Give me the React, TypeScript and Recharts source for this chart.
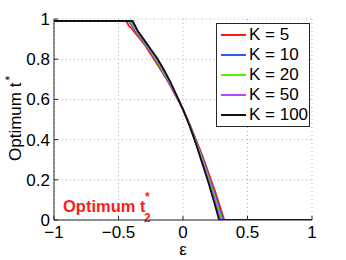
import React from "react";
import { LineChart, Line, XAxis, YAxis, CartesianGrid, Legend } from "recharts";

// epsilon / optimum t*, one pair of arrays per K
const K5_EPS = [-1, -0.44, -0.42, -0.4, -0.37, -0.35, -0.3, -0.25, -0.2, -0.15, -0.1, -0.05, 0, 0.05, 0.1, 0.15, 0.2, 0.25, 0.3, 0.32, 1];
const K5_T = [0.99, 0.99, 0.965, 0.955, 0.93, 0.915, 0.875, 0.825, 0.775, 0.725, 0.67, 0.61, 0.55, 0.48, 0.4, 0.32, 0.23, 0.14, 0.04, 0, 0];

const K10_EPS = [-1, -0.42, -0.4, -0.35, -0.3, -0.25, -0.2, -0.15, -0.1, -0.05, 0, 0.05, 0.1, 0.15, 0.2, 0.25, 0.3, 0.31, 1];
const K10_T = [0.99, 0.99, 0.97, 0.925, 0.88, 0.835, 0.785, 0.73, 0.675, 0.615, 0.55, 0.475, 0.395, 0.31, 0.215, 0.12, 0.02, 0, 0];

const K20_EPS = [-1, -0.41, -0.4, -0.35, -0.3, -0.25, -0.2, -0.15, -0.1, -0.05, 0, 0.05, 0.1, 0.15, 0.2, 0.25, 0.3, 1];
const K20_T = [0.99, 0.99, 0.98, 0.93, 0.885, 0.84, 0.79, 0.735, 0.68, 0.618, 0.55, 0.473, 0.39, 0.3, 0.205, 0.105, 0, 0];

const K50_EPS = [-1, -0.4, -0.35, -0.3, -0.25, -0.2, -0.15, -0.1, -0.05, 0, 0.05, 0.1, 0.15, 0.2, 0.25, 0.29, 1];
const K50_T = [0.99, 0.99, 0.935, 0.89, 0.845, 0.798, 0.742, 0.684, 0.62, 0.55, 0.472, 0.385, 0.29, 0.193, 0.09, 0, 0];

const K100_EPS = [-1, -0.39, -0.35, -0.3, -0.25, -0.2, -0.15, -0.1, -0.05, 0, 0.05, 0.1, 0.15, 0.2, 0.25, 0.28, 1];
const K100_T = [0.99, 0.99, 0.94, 0.895, 0.85, 0.805, 0.75, 0.69, 0.62, 0.55, 0.47, 0.38, 0.28, 0.18, 0.07, 0, 0];

const X_TICKS = [-1, -0.5, 0, 0.5, 1];
const Y_TICKS = [0, 0.2, 0.4, 0.6, 0.8, 1];

const SERIES = [
    { name: "K = 5", eps: K5_EPS, t: K5_T, color: "#ff1a1a" },
    { name: "K = 10", eps: K10_EPS, t: K10_T, color: "#3355ff" },
    { name: "K = 20", eps: K20_EPS, t: K20_T, color: "#55ee00" },
    { name: "K = 50", eps: K50_EPS, t: K50_T, color: "#bb44ff" },
    { name: "K = 100", eps: K100_EPS, t: K100_T, color: "#111111" },
];

const FONT = "'Liberation Sans', Arial, Helvetica, sans-serif";
const AXIS = "#262626";
const FS = 17;

const fmt = (v: number) => (v < 0 ? "\u2212" + String(-v) : String(v));

// keep the series order, recharts sorts legend items by name otherwise
const LegendBox = () => (
    <div
        style={{
            border: `1px solid ${AXIS}`,
            background: "#fff",
            width: 92,
            padding: "1px 0",
            fontFamily: FONT,
            fontSize: FS,
            color: "#000",
        }}
    >
        {SERIES.map((s) => (
            <div key={s.name} style={{ display: "flex", alignItems: "center", height: 20 }}>
                <svg width={30} height={20} style={{ flex: "none" }}>
                    <line x1={4} x2={29} y1={10} y2={10} stroke={s.color} strokeWidth={2} />
                </svg>
                <span style={{ marginLeft: 2, lineHeight: "20px", whiteSpace: "nowrap" }}>{s.name}</span>
            </div>
        ))}
    </div>
);

export default function App() {
    return (
        <div style={{ position: "absolute", left: 0, top: 0, width: 346, height: 260, background: "#fff" }}>
            <LineChart width={346} height={260} margin={{ top: 19, right: 34, bottom: 0, left: 0 }}>
                <CartesianGrid stroke="#b0b0b0" strokeDasharray="1 3" />
                <XAxis
                    type="number"
                    dataKey="eps"
                    domain={[-1, 1]}
                    ticks={X_TICKS}
                    tickFormatter={fmt}
                    height={40}
                    stroke={AXIS}
                    tickSize={-4}
                    tickMargin={10}
                    tick={{ fill: "#000", fontSize: FS, fontFamily: FONT }}
                    allowDataOverflow
                    label={{ value: "\u03b5", position: "insideBottom", offset: 5, fill: "#000", fontSize: FS, fontFamily: FONT }}
                />
                <XAxis xAxisId="top" orientation="top" type="number" domain={[-1, 1]} ticks={X_TICKS} height={0} stroke={AXIS} tickSize={-4} tick={false} />
                <YAxis
                    type="number"
                    domain={[0, 1]}
                    ticks={Y_TICKS}
                    tickFormatter={fmt}
                    width={54}
                    stroke={AXIS}
                    tickSize={-4}
                    tickMargin={8}
                    tick={{ fill: "#000", fontSize: FS, fontFamily: FONT }}
                    allowDataOverflow
                />
                <YAxis yAxisId="right" orientation="right" type="number" domain={[0, 1]} ticks={Y_TICKS} width={0} stroke={AXIS} tickSize={-4} tick={false} />
                <Legend
                    layout="vertical"
                    align="center"
                    verticalAlign="middle"
                    content={<LegendBox />}
                    wrapperStyle={{ position: "absolute", left: 216, top: 23, width: 94, height: "auto" }}
                />
                {SERIES.map((s) => (
                    <Line
                        key={s.name}
                        name={s.name}
                        data={s.eps.map((e, i) => ({ eps: e, t: s.t[i] }))}
                        dataKey="t"
                        type="linear"
                        stroke={s.color}
                        strokeWidth={1.8}
                        dot={false}
                        activeDot={false}
                        isAnimationActive={false}
                    />
                ))}
                <text transform="translate(21,161) rotate(-90)" fontFamily={FONT} fontSize={FS} fill="#000">
                    Optimum t
                    <tspan dx={2} dy={-7} fontSize={12}>*</tspan>
                </text>
                <text x={63} y={212} fontFamily={FONT} fontSize={16.5} fontWeight="bold" fill="#ff1a1a">
                    Optimum t
                </text>
                <text x={144} y={222} fontFamily={FONT} fontSize={12} fontWeight="bold" fill="#ff1a1a">
                    2
                </text>
                <text x={145} y={201} fontFamily={FONT} fontSize={12} fontWeight="bold" fill="#ff1a1a">
                    *
                </text>
            </LineChart>
        </div>
    );
}
